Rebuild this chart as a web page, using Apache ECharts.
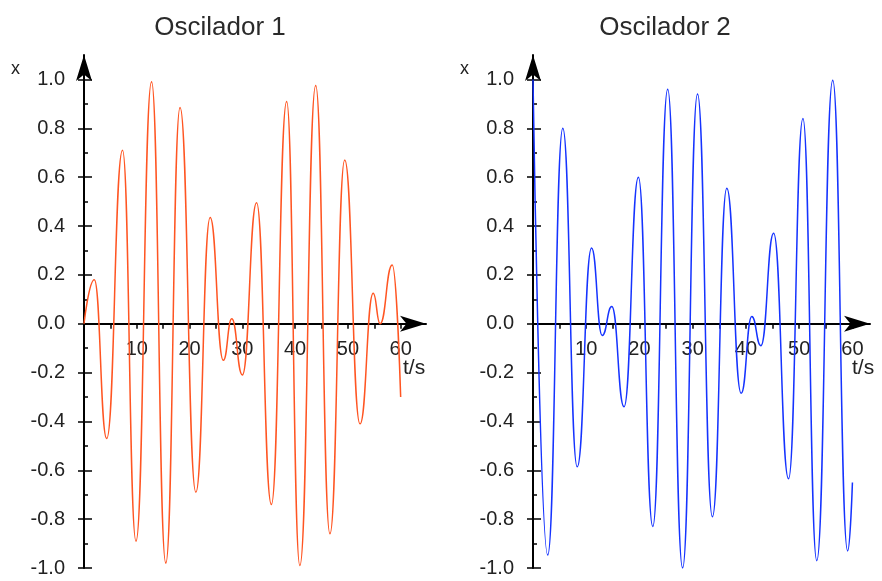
<!DOCTYPE html>
<html>
<head>
<meta charset="utf-8">
<script src="https://cdn.jsdelivr.net/npm/echarts@6/dist/echarts.min.js"></script>
<style>
html,body{margin:0;padding:0;background:#fff;}
#chart{width:882px;height:581px;}
</style>
</head>
<body>
<div id="chart"></div>
<script>
// oscilador 1: maximos y minimos (t en s)
var t1 = [0, 1.95, 4.3, 7.3, 9.85, 12.8, 15.5, 18.2, 21.2, 23.9, 26.4, 28.0, 30.0, 32.7, 35.5, 38.4, 40.9, 43.9, 46.6, 49.4, 52.3, 54.8, 56.1, 58.4, 60];
var x1 = [0, 0.18, -0.47, 0.71, -0.89, 0.99, -0.98, 0.885, -0.69, 0.435, -0.15, 0.02, -0.21, 0.495, -0.74, 0.91, -0.99, 0.975, -0.86, 0.67, -0.41, 0.125, 0.0, 0.24, -0.30];
// oscilador 2
var t2 = [0, 2.76, 5.6, 8.3, 11.0, 13.0, 14.8, 17.1, 19.8, 22.5, 25.3, 28.1, 30.9, 33.7, 36.4, 39.1, 41.1, 42.8, 45.2, 48.0, 50.7, 53.3, 56.3, 59.1, 60];
var x2 = [1.0, -0.947, 0.80, -0.586, 0.31, -0.048, 0.07, -0.34, 0.60, -0.83, 0.96, -1.0, 0.94, -0.79, 0.555, -0.285, 0.03, -0.09, 0.37, -0.635, 0.84, -0.97, 0.997, -0.93, -0.65];

var yMajor = [-1.0, -0.8, -0.6, -0.4, -0.2, 0.0, 0.2, 0.4, 0.6, 0.8, 1.0];
var yMinor = [-0.9, -0.7, -0.5, -0.3, -0.1, 0.1, 0.3, 0.5, 0.7, 0.9];
var tTicks = [5, 10, 15, 20, 25, 30, 35, 40, 45, 50, 55, 60];
var tLabels = [10, 20, 30, 40, 50, 60];
var titles = ['Oscilador 1', 'Oscilador 2'];

var FONT = 'Liberation Sans';
var tick = {color: '#000', width: 1.5};

function zip(t, x) {
  return t.map(function (v, i) { return [v, x[i]]; });
}

function xAxes(g, tMax) {
  return [{
    type: 'value', gridIndex: g, min: 0, max: tMax,
    axisLine: {onZero: true, lineStyle: {color: '#000', width: 2}, symbol: ['none', 'arrow'], symbolSize: [12, 26]},
    axisTick: {show: true, customValues: tTicks, length: 4, lineStyle: tick},
    // las etiquetas quedan abajo del grid, se suben hasta el eje t
    axisLabel: {customValues: tLabels, color: '#222', fontSize: 20, fontFamily: FONT, margin: -229},
    splitLine: {show: false}
  }, {
    type: 'value', gridIndex: g, min: 0, max: tMax,
    axisLine: {show: false, onZero: true},
    axisTick: {show: true, inside: true, customValues: tTicks, length: 5, lineStyle: tick},
    axisLabel: {show: false}, splitLine: {show: false}
  }];
}

function yAxes(g) {
  var base = {type: 'value', gridIndex: g, min: -1, max: 1.1, position: 'left', splitLine: {show: false}};
  return [
    Object.assign({}, base, {
      axisLine: {onZero: true, lineStyle: {color: '#000', width: 2}, symbol: ['none', 'arrow'], symbolSize: [12, 26]},
      axisTick: {show: true, customValues: yMajor, length: 6, lineStyle: tick},
      axisLabel: {customValues: yMajor, color: '#222', fontSize: 20, fontFamily: FONT, margin: 19,
        formatter: function (v) { return v.toFixed(1); }}
    }),
    Object.assign({}, base, {
      axisLine: {show: false, onZero: true},
      axisTick: {show: true, inside: true, customValues: yMajor, length: 8, lineStyle: tick},
      axisLabel: {show: false}
    }),
    Object.assign({}, base, {
      axisLine: {show: false, onZero: true},
      axisTick: {show: true, inside: true, customValues: yMinor, length: 4, lineStyle: tick},
      axisLabel: {show: false}
    })
  ];
}

var myChart = echarts.init(document.getElementById('chart'));
myChart.setOption({
  animation: false,
  backgroundColor: '#fff',
  title: [
    {text: titles[0], left: 215, top: 10, textAlign: 'center', textStyle: {fontSize: 26, fontWeight: 'normal', color: '#2a2a2a', fontFamily: FONT}},
    {text: titles[1], left: 660, top: 10, textAlign: 'center', textStyle: {fontSize: 26, fontWeight: 'normal', color: '#2a2a2a', fontFamily: FONT}}
  ],
  grid: [
    {left: 84, top: 55, width: 342, height: 513, outerBoundsMode: 'none'},
    {left: 533, top: 55, width: 337, height: 513, outerBoundsMode: 'none'}
  ],
  xAxis: xAxes(0, 64.8).concat(xAxes(1, 63.3)),
  yAxis: yAxes(0).concat(yAxes(1)),
  graphic: [
    {type: 'text', left: 11, top: 60, style: {text: 'x', fill: '#222', font: '18px "Liberation Sans"'}},
    {type: 'text', left: 460, top: 60, style: {text: 'x', fill: '#222', font: '18px "Liberation Sans"'}},
    {type: 'text', left: 403, top: 358, style: {text: 't/s', fill: '#222', font: '21px "Liberation Sans"'}},
    {type: 'text', left: 852, top: 358, style: {text: 't/s', fill: '#222', font: '21px "Liberation Sans"'}}
  ],
  series: [{
    name: titles[0], type: 'line', xAxisIndex: 0, yAxisIndex: 0,
    data: zip(t1, x1), showSymbol: false, smooth: 0.5, smoothMonotone: 'x',
    lineStyle: {color: '#ff5522', width: 1.5}
  }, {
    name: titles[1], type: 'line', xAxisIndex: 2, yAxisIndex: 3,
    data: zip(t2, x2), showSymbol: false, smooth: 0.5, smoothMonotone: 'x',
    lineStyle: {color: '#1533ff', width: 1.5}
  }]
});
</script>
</body>
</html>
